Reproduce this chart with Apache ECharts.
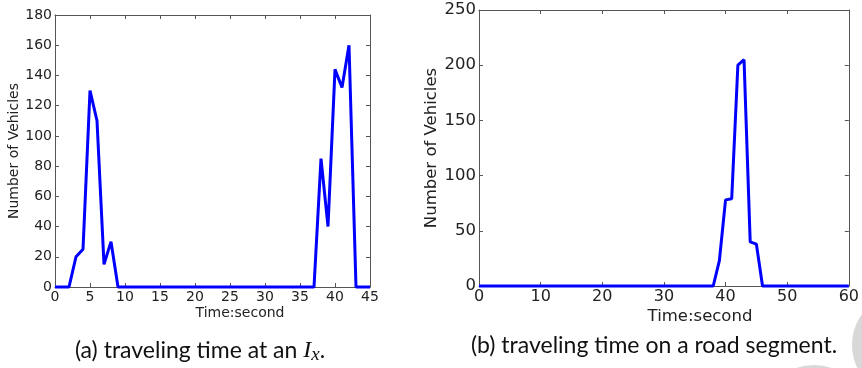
<!DOCTYPE html>
<html>
<head>
<meta charset="utf-8">
<script src="https://cdn.jsdelivr.net/npm/echarts@6/dist/echarts.min.js"></script>
<style>html,body{margin:0;padding:0;background:#fff;}#c{width:862px;height:368px;}</style>
</head>
<body>
<div id="c"></div>
<script>
// Panel (a): traveling time at an I_x
var timesA = [0,1,2,3,4,5,6,7,8,9,10,11,12,13,14,15,16,17,18,19,20,21,22,23,24,25,26,27,28,29,30,31,32,33,34,35,36,37,38,39,40,41,42,43,44,45];
var vehiclesA = [0,0,0,20,25,130,110,15,30,0,0,0,0,0,0,0,0,0,0,0,0,0,0,0,0,0,0,0,0,0,0,0,0,0,0,0,0,0,85,40,144,132,160,0,0,0];
// Panel (b): traveling time on a road segment
var timesB = [0,1,2,3,4,5,6,7,8,9,10,11,12,13,14,15,16,17,18,19,20,21,22,23,24,25,26,27,28,29,30,31,32,33,34,35,36,37,38,39,40,41,42,43,44,45,46,47,48,49,50,51,52,53,54,55,56,57,58,59,60];
var vehiclesB = [0,0,0,0,0,0,0,0,0,0,0,0,0,0,0,0,0,0,0,0,0,0,0,0,0,0,0,0,0,0,0,0,0,0,0,0,0,0,0,23,78,79,200,205,40,38,0,0,0,0,0,0,0,0,0,0,0,0,0,0,0];
var xTicksA = {min:0, max:45, interval:5};
var yTicksA = {min:0, max:180, interval:20};
var xTicksB = {min:0, max:60, interval:10};
var yTicksB = {min:0, max:250, interval:50};
var yTitle = 'Number of Vehicles';
var xTitle = 'Time:second';
var captionA = '(a) traveling time at an ';
var captionB = '(b) traveling time on a road segment.';

function pairs(xs, ys){ return xs.map(function(x,i){ return [x, ys[i]]; }); }

var frame = '#555';
var labelCol = '#222';
function axis(grid, t, pos, fs, showLabel, name, gap){
  var a = {
    gridIndex: grid, type:'value', min:t.min, max:t.max, interval:t.interval, position:pos,
    axisLine:{show:true, onZero:false, lineStyle:{color:frame, width:1}},
    axisTick:{show:true, inside:true, length:4, lineStyle:{color:frame, width:1}},
    axisLabel:{show:showLabel, fontSize:fs, color:labelCol, margin:3, fontFamily:'DejaVu Sans', hideOverlap:false},
    splitLine:{show:false}
  };
  if (name){
    a.name = name; a.nameLocation='middle'; a.nameGap=gap;
    a.nameTextStyle = {fontSize: fs, color: labelCol, fontFamily:'DejaVu Sans'};
  }
  return a;
}

var chart = echarts.init(document.getElementById('c'), null, {renderer:'canvas'});
chart.setOption({
  animation:false,
  backgroundColor:'#fff',
  grid:[
    {left:55, top:15, width:315, height:272},
    {left:479, top:10, width:375, height:276}
  ],
  xAxis:[
    axis(0, xTicksA, 'bottom', 14, true),
    axis(0, xTicksA, 'top', 14, false),
    axis(1, xTicksB, 'bottom', 16, true),
    axis(1, xTicksB, 'top', 16, false)
  ],
  yAxis:[
    axis(0, yTicksA, 'left', 14, true, yTitle, 31),
    axis(0, yTicksA, 'right', 14, false),
    axis(1, yTicksB, 'left', 16.5, true, yTitle, 37),
    axis(1, yTicksB, 'right', 16, false)
  ],
  series:[
    {type:'line', xAxisIndex:0, yAxisIndex:0, data:pairs(timesA, vehiclesA), showSymbol:false, clip:false,
     lineStyle:{color:'#0000ff', width:3}, itemStyle:{color:'#0000ff'}},
    {type:'line', xAxisIndex:2, yAxisIndex:2, data:pairs(timesB, vehiclesB), showSymbol:false, clip:false,
     lineStyle:{color:'#0000ff', width:3}, itemStyle:{color:'#0000ff'}}
  ],
  graphic:[
    {type:'circle', shape:{cx:905, cy:345, r:53}, style:{fill:'#d8d8d8'}, z:-1},
    {type:'circle', shape:{cx:814, cy:420, r:55}, style:{fill:'#d8d8d8'}, z:-1},
    {type:'text', x:240, y:313, style:{text:xTitle, fontSize:14, fontFamily:'DejaVu Sans', fill:labelCol, align:'center', verticalAlign:'middle'}},
    {type:'text', x:700, y:317, style:{text:xTitle, fontSize:16.5, fontFamily:'DejaVu Sans', fill:labelCol, align:'center', verticalAlign:'middle'}},
    {type:'text', x:200, y:351, style:{
      text: captionA + '{i|I}{s|x}.', fontSize:23, fontFamily:'Lato', fill:'#111', align:'center', verticalAlign:'middle',
      rich:{ i:{fontSize:24, fontStyle:'italic', fontFamily:'Liberation Serif', fill:'#111'},
             s:{fontSize:19, fontStyle:'italic', fontFamily:'Liberation Serif', fill:'#111', padding:[8,0,0,0]} }
    }},
    {type:'text', x:654, y:346, style:{text:captionB, fontSize:23, fontFamily:'Lato', fill:'#111', align:'center', verticalAlign:'middle'}}
  ]
});
</script>
</body>
</html>
